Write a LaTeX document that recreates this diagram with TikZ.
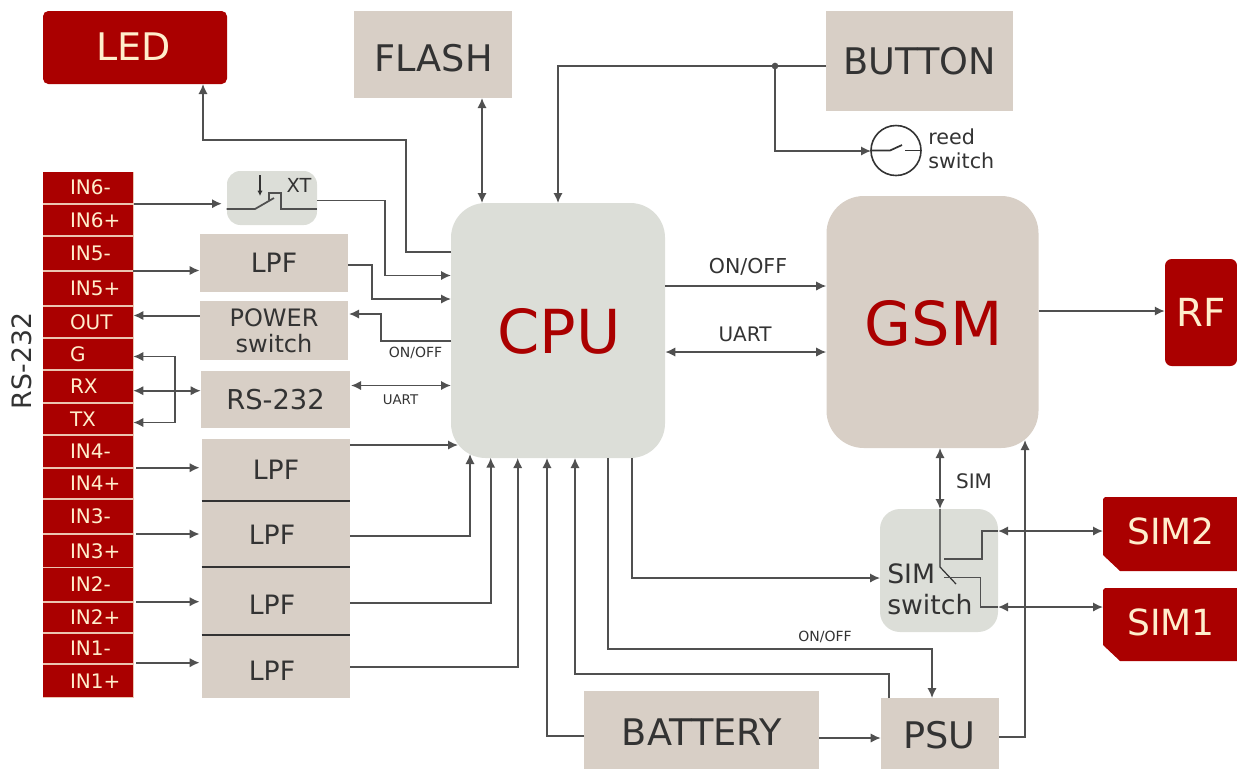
\documentclass[tikz,border=0pt]{standalone}
\usepackage{fontspec}
\usetikzlibrary{arrows.meta}
\setmainfont{DejaVu Sans}
\definecolor{redblock}{HTML}{AA0000}
\definecolor{creamtext}{HTML}{FFEECC}
\definecolor{pinline}{HTML}{EBC4B0}
\definecolor{sandblock}{HTML}{D8CFC6}
\definecolor{greyblock}{HTML}{DCDED8}
\definecolor{darktext}{HTML}{333333}
\definecolor{wirecol}{HTML}{505050}
\newcommand{\px}{.75pt}
\newcommand{\sz}[1]{\fontsize{#1}{#1}\selectfont}
\tikzset{
  block/.style={inner sep=0pt, align=center, text=darktext},
  wh/.style 2 args={minimum width=#1*\px, minimum height=#2*\px},
  sand/.style={block, fill=sandblock},
  grey/.style={block, fill=greyblock},
  redbox/.style={block, fill=redblock, text=creamtext},
  pin/.style={redbox, text width=90*\px, align=left, font=\sz{15}},
  tag/.style={inner sep=0pt, text=darktext},
  wire/.style={draw=wirecol, line width=1.3pt},
  to/.style={wire, -{Latex[length=7.5pt,width=7pt]}},
  feed/.style={to, line width=1.5pt},
  both/.style={wire, {Latex[length=7.5pt,width=7pt]}-{Latex[length=7.5pt,width=7pt]}},
  thinline/.style={draw=darktext, line width=.9pt},
  divider/.style={draw=darktext, line width=1.5pt}
}
\begin{document}
\begin{tikzpicture}[x=.75pt, y=-.75pt]
    \useasboundingbox (0,0) rectangle (1237,769);

    % terminal strip
    \node[wh={91}{526}, inner sep=0pt, fill=pinline] (strip) at (88,434.5) {};
    \foreach \name/\top/\bot [count=\i from 0] in {IN6-/172/203,IN6+/205/235,IN5-/237/270,IN5+/272/305,OUT/307/337,G/339/369,RX/371/402,TX/404/434,IN4-/436/467,IN4+/468.5/498,IN3-/499.5/533,IN3+/534.5/567,IN2-/568/601,IN2+/602.5/632,IN1-/634/663,IN1+/664.5/697}
      \node[pin, minimum height={(\bot-\top)*\px}] (pin\i) at (88,{(\top+\bot)/2}) {\hspace*{20.25pt}\name};
    \node[tag, rotate=90, font=\sz{20}] (rslabel) at (22,361) {RS-232};

    % blocks
    \node[redbox, wh={184}{73}, rounded corners=4pt] (led) at (135,47.5) {};
    \node[tag, text=creamtext, font=\sz{28.5}] (ledtext) at (133.5,47) {LED};
    \node[sand, wh={158}{87}] (flash) at (433,54.5) {};
    \node[tag, font=\sz{27.5}] (flashtext) at (433.5,58.5) {FLASH};
    \node[sand, wh={187}{100}, font=\sz{27.5}] (button) at (919.5,61) {BUTTON};
    \node[grey, wh={90}{54}, rounded corners=10pt] (xt) at (272,198) {};
    \node[sand, wh={148}{58}, font=\sz{20}] (lpfe) at (274,263) {LPF};
    \node[sand, wh={148}{59}, font=\sz{18}] (power) at (274,330.5) {POWER\\[1.5pt]switch};
    \node[sand, wh={149}{57}, font=\sz{20.5}] (rsblock) at (275.5,399.5) {RS-232};
    \node[sand, wh={148}{62}, font=\sz{20}] (lpfd) at (276,470) {LPF};
    \node[sand, wh={148}{66}] (lpfc) at (276,534) {};
    \node[sand, wh={148}{68}] (lpfb) at (276,601) {};
    \node[sand, wh={148}{63}] (lpfa) at (276,666.5) {};
    \node[tag, font=\sz{20}] (lpfctext) at (272,534.5) {LPF};
    \node[tag, font=\sz{20}] (lpfbtext) at (272,604.5) {LPF};
    \node[tag, font=\sz{20}] (lpfatext) at (272,670.5) {LPF};
    \draw[divider] (lpfd.south west) -- (lpfd.south east);
    \draw[divider] (lpfc.south west) -- (lpfc.south east);
    \draw[divider] (lpfb.south west) -- (lpfb.south east);
    \node[grey, wh={214}{255}, rounded corners=26pt] (cpu) at (558,330.5) {};
    \node[tag, text=redblock, font=\sz{45.5}] (cputext) at (559,331) {CPU};
    \node[sand, wh={212}{252}, rounded corners=28pt] (gsm) at (932.5,322) {};
    \node[tag, text=redblock, font=\sz{45.5}] (gsmtext) at (933.5,323) {GSM};
    \node[grey, wh={118}{123}, rounded corners=15pt] (simsw) at (939,570.5) {};
    \node[sand, wh={235}{78}] (battery) at (701.5,730) {};
    \node[tag, font=\sz{27.5}] (battext) at (702,732) {BATTERY};
    \node[sand, wh={118}{71}] (psu) at (940,733.5) {};
    \node[tag, font=\sz{27.5}] (psutext) at (939.5,735) {PSU};

    \node[redbox, wh={72}{107}, rounded corners=5pt, font=\sz{29}] (rf) at (1201,312.5) {RF};
    \fill[redblock] (1237,497) -- (1105,497) -- (1103,499) -- (1103,555) -- (1120,571) -- (1237,571) -- cycle;
    \node[tag, text=creamtext, font=\sz{27}] (simb) at (1171,531) {SIM2};
    \fill[redblock] (1237,588) -- (1105,588) -- (1103,590) -- (1103,645) -- (1120,661) -- (1237,661) -- cycle;
    \node[tag, text=creamtext, font=\sz{27}] (sima) at (1171,622) {SIM1};

    % ports
    \coordinate (ledport) at (203,84);
    \coordinate (cpuled) at (451,252);
    \coordinate (flashport) at (482,98);
    \coordinate (cpuflash) at (482,203);
    \coordinate (btnport) at (826,66);
    \coordinate (btndot) at (775,66);
    \coordinate (cpubtn) at (558,203);
    \coordinate (reedin) at (871,151);
    \coordinate (xtin) at (222,203.5);
    \coordinate (xtout) at (317,200.5);
    \coordinate (cpuxt) at (451,275.5);
    \coordinate (lpfeout) at (348,265);
    \coordinate (cpulpfe) at (451,299);
    \coordinate (cpuon) at (451,341);
    \coordinate (powerin) at (349,314);
    \coordinate (rsin) at (351,385.5);
    \coordinate (cpurs) at (451,385.5);
    \coordinate (lpfdout) at (350,445);
    \coordinate (cpulpfd) at (458,445);
    \coordinate (lpfcout) at (350,535.7);
    \coordinate (cpulpfc) at (470,454);
    \coordinate (lpfbout) at (350,602.7);
    \coordinate (cpulpfb) at (490.7,457.7);
    \coordinate (lpfaout) at (350,666.7);
    \coordinate (cpulpfa) at (517.7,458);
    \coordinate (batout) at (584,736);
    \coordinate (cpubat) at (547,458);
    \coordinate (psuout) at (889,698);
    \coordinate (cpupsu) at (575,458);
    \coordinate (cpuoff) at (608,458);
    \coordinate (psuon) at (932,698);
    \coordinate (cpusim) at (632,458);
    \coordinate (simin) at (880,578);
    \coordinate (gsmsim) at (940,448);
    \coordinate (simtop) at (940,509);
    \coordinate (simpivot) at (940,567);
    \coordinate (simblade) at (956,584);
    \coordinate (simout) at (998,531);
    \coordinate (simoutb) at (998,607);
    \coordinate (simcont) at (944,559);
    \coordinate (simcontb) at (944,577.5);
    \coordinate (psuright) at (999,737);
    \coordinate (gsmpsu) at (1025,440);

    % wires
    \draw[to] (cpuled) -| (406,140) -| (ledport);
    \draw[both] (cpuflash) -- (flashport);
    \draw[to] (btnport) -| (cpubtn);
    \draw[to] (btndot) |- (reedin);
    \fill[wirecol] (btndot) circle (2.5pt);
    \draw[feed] (pin0.east |- 0,203.7) ++(1,0) -- (xtin |- 0,203.7);
    \draw[to] (xtout) -| (385,275.5) -- (cpuxt);
    \draw[feed] (pin2.east |- 0,270.5) -- (lpfe.west |- 0,270.5);
    \draw[to] (lpfeout) -| (372,299) -- (cpulpfe);
    \draw[feed] (power.west |- 0,315.5) -- (pin4.east |- 0,315.5);
    \draw[to] (cpuon) -| (381,314) -- (powerin);
    \draw[to] (175,390.7) |- (pin5.east |- 0,356.5);
    \draw[to] (175,390.7) |- (pin7.east |- 0,422.5);
    \draw[both] (pin6.east |- 0,390.7) -- (rsblock.west |- 0,390.7);
    \draw[both] (rsin) -- (cpurs);
    \foreach \from/\dest/\y in {8/lpfd/467.7,10/lpfc/534,12/lpfb/601.7,14/lpfa/662.7}
      \draw[feed] (pin\from.east |- 0,\y) ++(3,0) -- ([xshift=-1.5pt]\dest.west |- 0,\y);
    \draw[to] (lpfdout) -- (cpulpfd);
    \draw[to] (lpfcout) -| (cpulpfc);
    \draw[to] (lpfbout) -| (cpulpfb);
    \draw[to] (lpfaout) -| (cpulpfa);
    \draw[to] (batout) -| (cpubat);
    \draw[to] (psuout) |- (575,674) -- (cpupsu);
    \draw[to] (cpuoff) |- (932,649) -- (psuon);
    \draw[to] (cpusim) |- (simin);
    \draw[to] (battery.east |- 0,738) -- (psu.west |- 0,738);
    \draw[to] (psuright) -| (gsmpsu);
    \draw[to] (cpu.east |- 0,286) -- (gsm.west |- 0,286);
    \draw[both] (cpu.east |- 0,352) -- (gsm.west |- 0,352);
    \draw[to] (gsm.east |- 0,311) -- (rf.west |- 0,311);
    \draw[both] (gsmsim) -- (simtop);
    \draw[thinline] (simtop) -- (simpivot) -- (simblade);
    \draw[wire] (simcont) -| (982,531) -- (simout);
    \draw[wire] (simcontb) -| (980.5,607) -- (simoutb);
    \draw[both] (simout) -- (1103,531);
    \draw[both] (simoutb) -- (1103,607);

    % XT symbol
    \draw[thinline, -{Latex[length=4pt,width=4pt]}] (260,175) -- (260,196);
    \draw[wire] (xt.west |- 0,209) -- (255,209) -- (274,198);
    \draw[wire] (269,200) -- (269,193) -- (281,193) -- (281,209) -- (xt.east |- 0,209);
    \node[tag, font=\sz{14.5}] (xtlabel) at (299,185) {XT};

    % reed switch
    \node[circle, draw=darktext, line width=1.2pt, minimum size=50*\px, inner sep=0pt] (reed) at (896,150.5) {};
    \draw[wire, draw=darktext] (reed.west) -- (890,150.5) -- (902,145);
    \draw[wire, draw=darktext] (905,150.5) -- (reed.east);
    \node[tag, font=\sz{15.5}, anchor=west] (reedtop) at (928,137) {reed};
    \node[tag, font=\sz{15.5}, anchor=west] (reedbot) at (928,161) {switch};

    % SIM switch text
    \node[tag, font=\sz{20}, anchor=west] (simtext) at (887,574) {SIM};
    \node[tag, font=\sz{20}, anchor=west] (swtext) at (887,605) {switch};

    % signal labels
    \node[tag, font=\sz{15.4}] (ontop) at (748,267) {ON/OFF};
    \node[tag, font=\sz{15}] (uarttop) at (745,334) {UART};
    \node[tag, font=\sz{15}] (simsig) at (974,481) {SIM};
    \node[tag, font=\sz{10.5}] (onpower) at (415.5,353) {ON/OFF};
    \node[tag, font=\sz{10}] (uartrs) at (400.5,400) {UART};
    \node[tag, font=\sz{10.5}] (onpsu) at (825,637) {ON/OFF};

  \end{tikzpicture}
\end{document}
